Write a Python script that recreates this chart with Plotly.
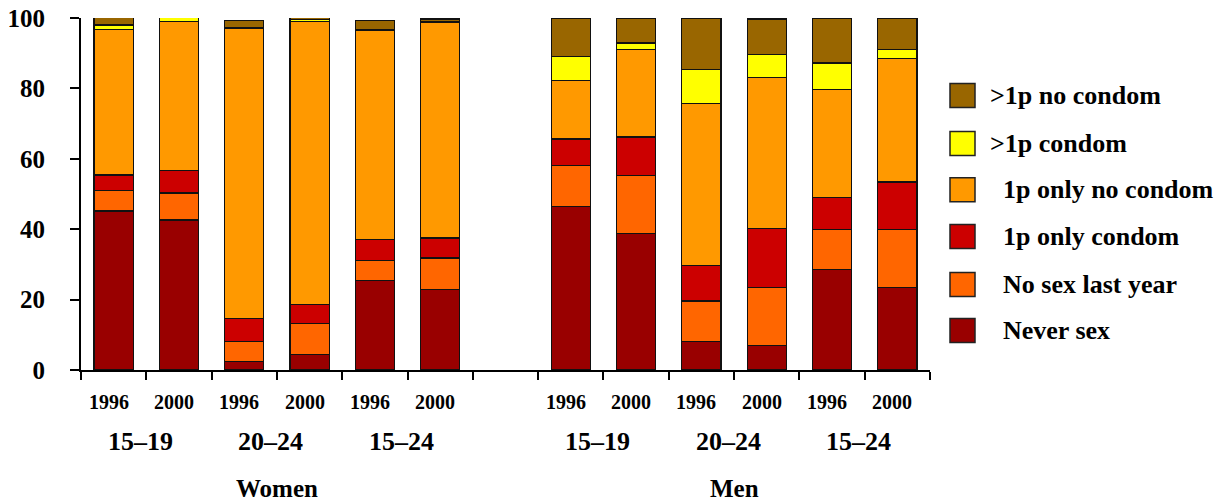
# Stacked bar chart: sexual behaviour of young women and men, 1996 vs 2000

import plotly.graph_objects as go

sexes = ['Women', 'Men']
age_groups = ['15–19', '20–24', '15–24']
years = ['1996', '2000']

# values per bar, women first (15-19 96/00, 20-24 96/00, 15-24 96/00), then men
never_sex = [45.2, 42.6, 2.4, 4.3, 25.4, 22.8,
             46.4, 38.7, 8.1, 6.9, 28.5, 23.4]
no_sex_last_year = [5.7, 7.7, 5.7, 8.9, 5.7, 9.0,
                    11.6, 16.6, 11.5, 16.6, 11.4, 16.5]
one_p_condom = [4.5, 6.3, 6.5, 5.3, 5.9, 5.7,
                7.6, 10.9, 10.2, 16.6, 9.0, 13.5]
one_p_no_condom = [41.3, 42.5, 82.5, 80.4, 59.6, 61.2,
                   16.6, 24.8, 45.9, 43.1, 30.7, 35.0]
multi_p_condom = [1.3, 1.3, 0.3, 0.6, 0.2, 0.3,
                  6.9, 1.9, 9.6, 6.4, 7.6, 2.6]
multi_p_no_condom = [2.6, 0.7, 2.0, 1.1, 2.6, 0.7,
                     10.7, 7.1, 14.7, 10.1, 12.8, 9.0]

series_names = ['Never sex', 'No sex last year', '1p only condom',
                '1p only no condom', '>1p condom', '>1p no condom']
series_values = [never_sex, no_sex_last_year, one_p_condom,
                 one_p_no_condom, multi_p_condom, multi_p_no_condom]
series_colors = ['#990000', '#FF6600', '#CC0000', '#FF9900', '#FFFF00', '#996600']
# legend labels as in the original (some carry a leading indent)
legend_labels = ['\u00a0\u00a0Never sex', '\u00a0\u00a0No sex last year',
                 '\u00a0\u00a01p only condom', '\u00a0\u00a01p only no condom',
                 '>1p condom', '>1p no condom']

FONT = 'Liberation Serif, Times New Roman, serif'

# categories: women bars, an empty spacer, then men bars
bar_cats = [f'{s} {a} {y}' for s in sexes for a in age_groups for y in years]
spacer = ' '
cat_order = bar_cats[:6] + [spacer] + bar_cats[6:]

# the page body adds an 8px margin, so the figure is shrunk to fit the window
PAGE_OFF = 8
W, H = 1226 - PAGE_OFF, 501 - PAGE_OFF
L, R, T, B = 81 - PAGE_OFF, 296, 18 - PAGE_OFF, 131
PW, PH = W - L - R, H - T - B


def px_x(px):
    # window pixel -> paper x
    return (px - PAGE_OFF - L) / PW


def px_y(py):
    # window pixel -> paper y
    return (H - B - (py - PAGE_OFF)) / PH


fig = go.Figure()

for name, vals, color in zip(series_names, series_values, series_colors):
    fig.add_trace(go.Bar(
        x=bar_cats,
        y=vals,
        name=name,
        width=0.6,
        marker=dict(color=color, line=dict(color='#111111', width=1.2)),
        cliponaxis=False,
        showlegend=False
    ))

annotations = []
# year labels under each bar
for cat in bar_cats:
    annotations.append(dict(
        x=cat, y=0, xref='x', yref='paper', yshift=-32, xshift=-5,
        text=cat.split(' ')[-1], showarrow=False, yanchor='middle',
        font=dict(family=FONT, size=20, color='black', weight='bold')
    ))
# age group labels and sex labels
for si, sex in enumerate(sexes):
    base = si * 7
    for ai, age in enumerate(age_groups):
        annotations.append(dict(
            x=base + ai * 2 + 0.5, y=0, xref='x', yref='paper', yshift=-71, xshift=-6,
            text=age, showarrow=False, yanchor='middle',
            font=dict(family=FONT, size=26, color='black', weight='bold')
        ))
    annotations.append(dict(
        x=base + 2.5, y=0, xref='x', yref='paper', yshift=-118,
        text=sex, showarrow=False, yanchor='middle',
        font=dict(family=FONT, size=25, color='black', weight='bold')
    ))

# custom legend, top entry first
shapes = []
legend_rows = [95.5, 143.5, 189.7, 236.5, 284.5, 330.5]
for row, i in zip(legend_rows, reversed(range(len(series_names)))):
    shapes.append(dict(
        type='rect', xref='paper', yref='paper',
        x0=px_x(950), x1=px_x(975), y0=px_y(row + 12), y1=px_y(row - 12),
        fillcolor=series_colors[i], line=dict(color='#222222', width=1.5)
    ))
    annotations.append(dict(
        x=px_x(988), y=px_y(row), xref='paper', yref='paper',
        text=legend_labels[i], showarrow=False, xanchor='left', yanchor='middle',
        font=dict(family=FONT, size=26, color='black', weight='bold')
    ))

fig.update_layout(
    width=W,
    height=H,
    barmode='stack',
    margin=dict(l=L, r=R, t=T, b=B, autoexpand=False),
    paper_bgcolor='white',
    plot_bgcolor='white',
    showlegend=False,
    font=dict(family=FONT, color='black'),
    annotations=annotations,
    shapes=shapes,
    xaxis=dict(
        type='category',
        categoryorder='array',
        categoryarray=cat_order,
        range=[-0.5, 12.5],
        automargin=False,
        showticklabels=False,
        tickson='boundaries',
        ticks='outside',
        ticklen=8,
        tickwidth=1.5,
        tickcolor='black',
        showline=True,
        linecolor='black',
        linewidth=2,
        showgrid=False,
        zeroline=False
    ),
    yaxis=dict(
        range=[0, 100],
        automargin=False,
        tickvals=[0, 20, 40, 60, 80, 100],
        ticks='outside',
        ticklen=9,
        tickwidth=1.5,
        tickcolor='black',
        ticklabelstandoff=20,
        ticklabeloverflow='allow',
        tickfont=dict(family=FONT, size=25, color='black', weight='bold'),
        showline=True,
        linecolor='black',
        linewidth=2,
        showgrid=False,
        zeroline=False
    )
)

fig.write_html("out.html")
